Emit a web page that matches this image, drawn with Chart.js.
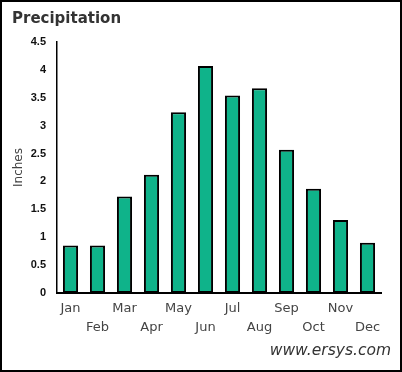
<!DOCTYPE html>
<html>
<head>
<meta charset="utf-8">
<script src="https://cdn.jsdelivr.net/npm/chart.js@4"></script>
<style>
  html, body { margin: 0; padding: 0; background: #fff; }
  #wrap {
    position: relative;
    width: 402px;
    height: 372px;
    box-sizing: border-box;
    border: 2px solid #000;
    background: #fff;
  }
  #footer {
    position: absolute;
    right: 9px;
    top: 339px;
    font: italic 15.5px "DejaVu Sans", Arial, sans-serif;
    color: #333;
  }
</style>
</head>
<body>
<div id="wrap">
  <canvas id="precipChart" width="398" height="368"></canvas>
  <div id="footer">www.ersys.com</div>
</div>
<script>
const months = ["Jan", "Feb", "Mar", "Apr", "May", "Jun", "Jul", "Aug", "Sep", "Oct", "Nov", "Dec"];
const inches = [0.85, 0.85, 1.73, 2.12, 3.24, 4.07, 3.54, 3.67, 2.57, 1.87, 1.31, 0.9];
const yTicks = [0, 0.5, 1, 1.5, 2, 2.5, 3, 3.5, 4, 4.5];

// alternate labels on two rows like the original
const xLabels = months.map((m, i) => (i % 2 === 0 ? [m, ""] : ["", m]));

const ctx = document.getElementById("precipChart");

// eslint-disable-next-line no-unused-vars
const precipChart = new Chart(ctx, {
  type: "bar",
  data: {
    labels: xLabels,
    datasets: [
      {
        label: "Precipitation",
        data: inches,
        backgroundColor: "#0fb38a",
        borderColor: "#000",
        borderWidth: 2,
        borderSkipped: false,
        categoryPercentage: 1,
        barPercentage: 0.56
      }
    ]
  },
  options: {
    responsive: false,
    animation: false,
    layout: {
      padding: { left: 10, right: 19, top: 0, bottom: 31 }
    },
    plugins: {
      legend: { display: false },
      tooltip: { enabled: false },
      title: {
        display: true,
        text: "Precipitation",
        align: "start",
        color: "#333",
        font: { family: "'DejaVu Sans', Verdana, sans-serif", size: 15, weight: "bold" },
        padding: { top: 8, bottom: 14 }
      }
    },
    scales: {
      x: {
        grid: { display: false },
        border: { display: true, color: "#000", width: 2 },
        ticks: {
          color: "#444",
          autoSkip: false,
          maxRotation: 0,
          padding: -2,
          font: { family: "'DejaVu Sans', Verdana, sans-serif", size: 13, lineHeight: "19px" }
        },
        afterFit: scale => {
          scale.height = 46;
        }
      },
      y: {
        min: 0,
        max: 4.5,
        afterBuildTicks: scale => {
          scale.ticks = yTicks.map(v => ({ value: v }));
        },
        grid: { display: false },
        border: { display: true, color: "#000", width: 1.5 },
        title: {
          display: true,
          text: "Inches",
          color: "#444",
          font: { family: "'DejaVu Sans', Verdana, sans-serif", size: 12 },
          padding: 0
        },
        ticks: {
          color: "#111",
          padding: 3,
          font: { family: "Arial, 'Liberation Sans', sans-serif", size: 11, weight: "bold" },
          callback: value => String(value)
        },
        afterFit: scale => {
          scale.width = 45;
        }
      }
    }
  }
});
</script>
</body>
</html>
